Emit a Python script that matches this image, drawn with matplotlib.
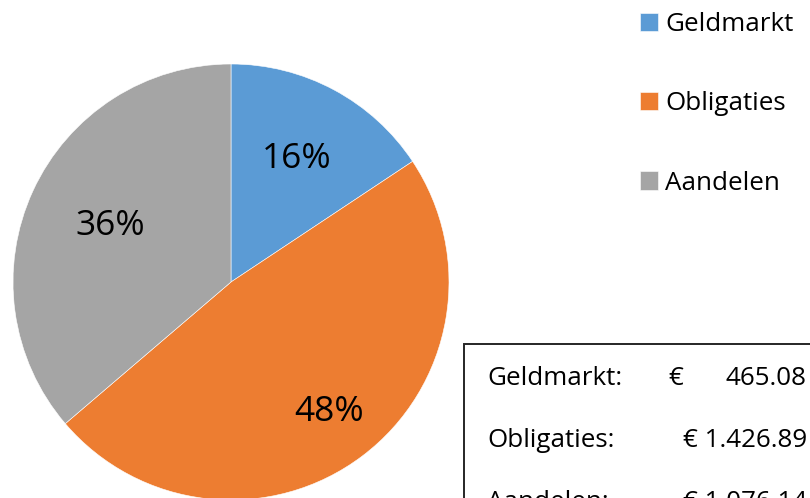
import numpy as np
import matplotlib
matplotlib.use("Agg")
import matplotlib.pyplot as plt
from matplotlib.patches import Rectangle

plt.rcParams['font.family'] = ['Open Sans', 'DejaVu Sans']

categories = ["Geldmarkt", "Obligaties", "Aandelen"]
amounts = [465.08, 1426.89, 1076.14]
colors = ["#5B9BD5", "#ED7D31", "#A5A5A5"]
# how far out (in radius units) each percentage label sits
label_dist = [0.64, 0.75, 0.61]

W, H = 810, 498
fig = plt.figure(figsize=(W / 100, H / 100), dpi=100)

# pie axes: centre at (231, 282) px from top, radius 218 px
cx, cy, r = 231, 282, 218
ax = fig.add_axes([(cx - r) / W, (H - cy - r) / H, 2 * r / W, 2 * r / H])
wedges, texts, autotexts = ax.pie(amounts, colors=colors, startangle=90, counterclock=False,
                                  autopct='%1.0f%%', radius=1,
                                  wedgeprops=dict(edgecolor='white', linewidth=0.4),
                                  textprops=dict(fontsize=25.5, color='black'))
for w, t, d in zip(wedges, autotexts, label_dist):
    mid = np.deg2rad((w.theta1 + w.theta2) / 2)
    t.set_position((d * np.cos(mid), d * np.sin(mid)))
ax.set_xlim(-1, 1)
ax.set_ylim(-1, 1)
ax.set_aspect('equal')
ax.axis('off')

# legend, top right
fs = 18.7
fig.legend(wedges, categories, loc='upper left', bbox_to_anchor=(640 / W, 1 - 12 / H),
           frameon=False, fontsize=fs, handlelength=0.7, handleheight=0.7,
           handletextpad=0.28, labelspacing=2.09, borderpad=0, borderaxespad=0)

# box with amounts, bottom right (runs off the figure)
box = Rectangle((464 / W, -0.2), 1.0, (H - 344) / H + 0.2, transform=fig.transFigure,
                facecolor='white', edgecolor='#262626', linewidth=1.4, zorder=5)
fig.add_artist(box)

row_base = [385, 447, 509]
for lab, val, yb in zip(categories, amounts, row_base):
    y = 1 - yb / H
    fig.text(487 / W, y, lab + ":", fontsize=fs, ha='left', va='baseline', zorder=6)
    num = f"{val:,.2f}".replace(",", ".")
    if val < 1000:
        fig.text(668 / W, y, "€", fontsize=fs, ha='left', va='baseline', zorder=6)
        fig.text(807 / W, y, num, fontsize=fs, ha='right', va='baseline', zorder=6)
    else:
        fig.text(807 / W, y, "€ " + num, fontsize=fs, ha='right', va='baseline', zorder=6)

fig.savefig("out.png", dpi=100)
